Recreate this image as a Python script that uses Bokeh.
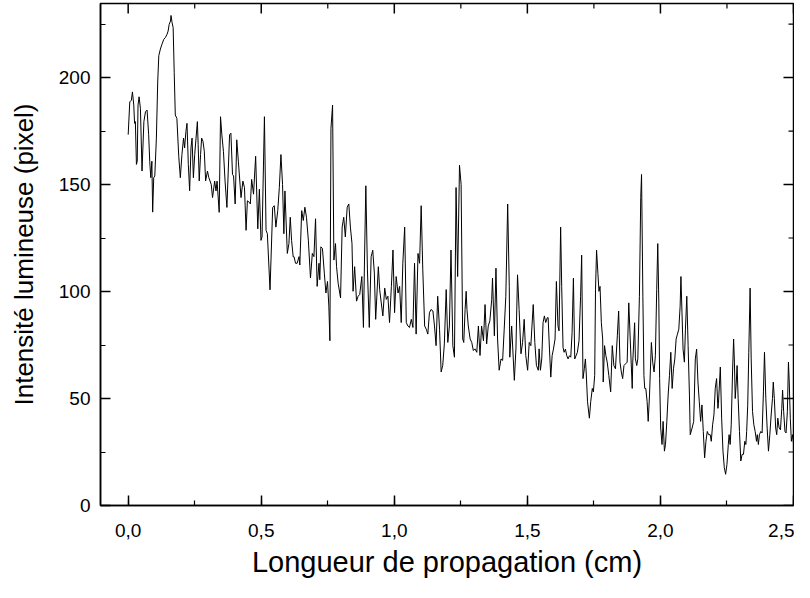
import math
from bokeh.plotting import figure
from bokeh.models import LinearAxis, SingleIntervalTicker, CustomJSTickFormatter, Range1d
from bokeh.embed import file_html
from bokeh.resources import INLINE

# Light intensity profile along the propagation length
seg1_x = [0.000,0.006,0.012,0.016,0.021,0.024,0.027,0.031,0.034,0.037,0.041,0.046,0.052,0.059,0.065,0.071,
          0.077,0.081,0.085,0.089,0.092,0.096,0.100,0.106,0.111,0.115,0.121,0.127,0.134,0.140,0.146,0.150,
          0.154,0.159,0.161,0.165,0.169,0.173,0.177,0.183,0.190,0.196,0.202,0.208,0.212,0.217,0.221,0.226,
          0.231,0.236,0.240,0.245,0.250,0.255,0.260,0.263,0.267,0.272,0.276,0.281,0.286,0.291,0.298,0.303]
seg1_y = [173.3,188.6,189.4,193.3,187.1,178.6,179.4,159.4,160.9,187.1,191.0,185.6,156.3,179.4,184.0,184.8,
          173.3,160.9,153.2,160.9,137.1,153.2,154.0,171.7,197.9,210.2,213.3,215.6,217.9,218.7,220.2,221.7,
          224.8,226.4,229.0,225.6,223.3,202.5,182.5,180.9,163.2,153.2,164.0,171.7,167.1,174.8,178.6,159.4,
          147.1,167.1,171.7,153.2,164.0,171.7,179.4,168.6,151.7,164.0,171.7,170.2,165.6,151.7,156.3,153.2]

seg2_x = [0.312,0.317,0.325,0.330,0.334,0.342,0.347,0.352,0.358,0.364,0.371,0.381,0.386,0.392,0.396,0.402,
          0.408,0.414,0.424,0.431,0.437,0.443,0.448,0.456,0.459,0.464,0.471,0.479,0.487,0.493,0.499,0.503,
          0.512,0.518,0.523,0.533,0.543,0.549,0.555,0.562,0.568,0.574,0.580,0.585,0.589,0.598,0.604,0.609,
          0.614,0.620]
seg2_y = [150.1,143.9,151.6,147.0,151.6,137.0,181.7,173.2,165.5,151.6,139.3,173.2,174.0,154.7,154.0,140.9,
          170.9,160.9,143.9,151.6,148.6,128.6,142.4,141.6,140.9,152.4,145.5,163.2,129.3,147.8,123.9,125.5,
          181.7,128.6,127.0,100.8,139.3,140.1,130.1,137.8,148.6,164.0,150.1,127.0,147.0,117.8,122.4,134.7,
          123.9,116.2]

seg3_x = [0.623,0.629,0.635,0.642,0.645,0.652,0.658,0.664,0.670,0.677,0.685,0.692,0.698,0.704,0.710,0.717,
          0.720,0.724,0.730,0.737,0.743,0.749,0.754,0.758,0.762,0.768,0.773,0.779,0.783,0.789,0.798,0.804,
          0.810,0.816,0.823,0.829,0.835,0.841,0.845,0.851,0.858,0.864,0.870,0.878,0.884,0.888,0.893,0.899,
          0.906,0.913,0.919,0.925,0.930,0.935,0.940]
seg3_y = [116.3,113.2,113.2,116.3,112.4,137.8,133.2,139.4,134.7,124.0,106.3,117.8,116.3,134.0,102.4,113.2,
          105.5,120.9,120.1,108.6,99.3,104.7,93.2,77.0,176.3,187.1,114.7,122.4,111.6,103.9,97.0,130.1,
          134.7,125.5,139.4,140.9,130.1,122.4,100.1,111.6,95.5,97.8,98.6,107.0,83.2,114.7,149.4,110.1,
          83.2,116.3,119.3,108.6,87.0,99.3,111.6]

seg4_x = [0.945,0.951,0.957,0.964,0.970,0.976,0.982,0.989,0.995,1.001,1.007,1.014,1.020,1.026,1.032,1.039,
          1.045,1.051,1.057,1.064,1.070,1.076,1.082,1.089,1.095,1.101,1.107,1.114,1.120,1.126,1.132,1.138,
          1.145,1.151,1.157,1.163,1.170,1.176,1.182,1.188,1.195,1.201,1.207,1.213,1.220,1.226,1.232,1.238,
          1.245]
seg4_y = [100.9,94.7,88.6,101.6,96.3,97.8,85.5,102.4,119.4,90.1,107.0,99.3,102.4,85.5,113.2,130.1,
          85.5,83.9,83.2,87.0,83.2,113.2,80.1,117.8,113.2,140.1,110.1,83.9,82.4,80.1,90.1,91.6,
          90.9,83.9,74.7,97.8,82.4,62.4,65.5,75.5,100.9,76.2,83.9,119.4,74.7,69.3,148.6,107.0,
          159.0]

seg5_x = [1.251,1.257,1.261,1.266,1.270,1.273,1.278,1.285,1.291,1.297,1.303,1.310,1.316,1.322,1.328,1.335,
          1.341,1.347,1.353,1.359,1.366,1.369,1.376,1.382,1.388,1.394,1.401,1.407,1.413,1.419,1.426,1.432,
          1.434,1.441,1.447,1.451,1.457,1.463,1.469,1.476,1.482,1.488,1.494,1.501,1.507,1.513,1.522,1.528,
          1.534,1.541,1.544,1.549,1.554,1.559,1.564,1.569,1.575]
seg5_y = [150.1,77.8,76.2,91.6,100.1,91.6,83.9,77.8,76.2,72.4,73.2,71.6,83.9,70.1,83.9,77.0,
          93.9,75.5,83.9,86.3,96.3,106.3,79.3,110.9,77.8,63.2,68.5,67.8,82.4,97.8,140.9,102.4,
          69.3,83.9,68.5,58.5,73.2,107.8,91.6,70.9,76.2,87.0,70.1,63.2,76.2,74.7,93.9,76.2,
          65.5,63.2,73.2,63.2,68.5,85.5,88.6,85.5,87.8]

seg6_x = [1.578,1.583,1.588,1.593,1.598,1.604,1.609,1.615,1.619,1.625,1.629,1.634,1.638,1.643,1.648,1.653,
          1.658,1.663,1.668,1.673,1.678,1.683,1.688,1.694,1.700,1.704,1.709,1.714,1.718,1.721,1.726,1.733,
          1.738,1.744,1.748,1.753,1.756,1.760,1.765,1.769,1.773,1.778,1.783,1.785,1.790,1.795,1.800,1.806,
          1.813,1.819,1.825,1.831,1.838,1.843,1.848,1.853,1.858,1.863,1.869,1.875,1.881,1.888,1.894]
seg6_y = [87.8,73.1,60.0,70.0,73.1,77.8,104.7,83.9,81.6,130.1,102.4,73.9,71.6,73.1,70.0,68.5,
          70.0,69.3,80.8,106.2,68.5,70.0,71.6,77.0,97.8,117.0,59.3,63.9,68.5,62.4,48.5,40.8,
          48.5,54.7,53.1,60.8,100.8,119.3,108.5,100.1,102.4,85.4,77.8,57.7,74.7,70.0,67.0,60.8,
          53.1,74.7,65.4,63.9,79.3,90.9,67.0,62.4,59.3,65.4,66.2,67.0,94.7,73.1,54.7]

seg7_x = [1.896,1.903,1.906,1.911,1.915,1.921,1.926,1.929,1.934,1.938,1.941,1.945,1.950,1.954,1.959,1.962,
          1.966,1.971,1.976,1.981,1.986,1.990,1.994,1.997,2.001,2.006,2.010,2.015,2.019,2.024,2.029,2.034,
          2.039,2.044,2.049,2.054,2.059,2.064,2.069,2.074,2.077,2.081,2.085,2.090,2.094,2.099,2.104,2.109,
          2.112,2.119,2.125,2.131,2.136,2.141,2.146,2.151,2.156,2.161,2.166,2.171,2.176,2.181,2.187,2.191,
          2.196,2.201,2.206,2.211,2.216]
seg7_y = [67.0,85.4,68.5,65.4,68.5,97.8,144.0,154.7,97.8,60.8,54.7,54.7,48.5,39.3,51.6,62.4,
          76.2,67.0,62.4,70.0,100.8,122.4,94.7,59.3,36.2,28.5,39.3,25.4,28.5,39.3,51.6,60.8,
          71.6,54.7,63.9,68.5,77.8,80.1,82.4,93.1,107.0,90.0,73.1,67.0,82.4,97.8,74.7,51.6,
          33.1,36.2,39.3,68.5,73.1,57.7,48.5,39.3,47.0,34.6,22.3,30.0,34.6,33.1,33.1,30.0,
          37.7,42.3,54.7,59.3,45.4]

seg8_x = [2.218,2.225,2.230,2.235,2.240,2.245,2.250,2.255,2.258,2.262,2.266,2.271,2.275,2.278,2.281,2.285,
          2.288,2.292,2.297,2.302,2.307,2.312,2.317,2.321,2.324,2.328,2.332,2.337,2.341,2.346,2.351,2.356,
          2.361,2.364,2.368,2.372,2.377,2.382,2.387,2.391,2.396,2.401,2.406,2.411,2.416,2.421,2.424,2.428,
          2.433,2.437,2.441,2.446,2.451,2.456,2.459,2.463,2.468,2.472,2.477,2.481,2.484,2.488,2.492,2.496,
          2.500]
seg8_y = [47.7,64.7,40.8,25.4,17.7,14.6,19.2,28.5,33.1,28.5,37.7,62.4,77.8,67.0,50.0,57.7,
          65.4,50.0,34.6,20.8,23.9,23.9,30.0,28.5,34.6,46.9,71.6,101.6,68.5,43.9,37.7,34.6,
          30.0,33.1,28.5,33.1,34.6,33.9,53.1,71.6,50.0,36.2,25.4,33.1,42.3,50.0,57.7,50.0,
          36.2,33.1,40.8,36.2,35.4,45.4,53.9,43.9,34.6,33.9,43.9,67.0,57.7,40.8,30.0,33.1,
          29.0]

# tick positions for the mirrored (top / right) ticks
x_major = [0.0, 0.5, 1.0, 1.5, 2.0, 2.5]
x_minor = [0.25, 0.75, 1.25, 1.75, 2.25]
y_major = [0, 50, 100, 150, 200]
y_minor = [25, 75, 125, 175, 225]

x_title = "Longueur de propagation (cm)"
y_title = "Intensité lumineuse (pixel)"

X_START, X_END = -0.104, 2.5
Y_START, Y_END = 0.0, 234.6

xs = seg1_x + seg2_x + seg3_x + seg4_x + seg5_x + seg6_x + seg7_x + seg8_x
ys = seg1_y + seg2_y + seg3_y + seg4_y + seg5_y + seg6_y + seg7_y + seg8_y
n = min(len(xs), len(ys))
xs, ys = xs[:n], ys[:n]

FONT = "Liberation Sans"

p = figure(width=794, height=582, output_backend="svg", toolbar_location=None,
           x_range=Range1d(X_START, X_END), y_range=Range1d(Y_START, Y_END),
           min_border_left=100, min_border_right=1, min_border_top=3, min_border_bottom=77,
           background_fill_color="white", border_fill_color="white")
p.xaxis.visible = False
p.yaxis.visible = False
p.grid.visible = False
p.outline_line_color = "black"
p.outline_line_width = 1.5

p.line(xs, ys, line_color="black", line_width=1)

# mirrored inward ticks on the top and right edges
p.ray(x=x_major, y=[Y_END] * len(x_major), length=10, angle=-math.pi / 2,
      length_units="screen", line_color="black", line_width=1.5)
p.ray(x=x_minor, y=[Y_END] * len(x_minor), length=5, angle=-math.pi / 2,
      length_units="screen", line_color="black", line_width=1.2)
p.ray(x=[X_END] * len(y_major), y=y_major, length=10, angle=math.pi,
      length_units="screen", line_color="black", line_width=1.5)
p.ray(x=[X_END] * len(y_minor), y=y_minor, length=5, angle=math.pi,
      length_units="screen", line_color="black", line_width=1.2)

fmt_x = CustomJSTickFormatter(code="return tick.toFixed(1).replace('.', ',');")

def style(ax):
    ax.axis_line_color = "black"
    ax.axis_line_width = 1.5
    ax.major_tick_line_width = 1.5
    ax.minor_tick_line_width = 1.2
    ax.major_tick_in = 10
    ax.major_tick_out = 0
    ax.minor_tick_in = 5
    ax.minor_tick_out = 0
    ax.major_label_text_font = FONT
    ax.major_label_text_font_size = "19px"
    ax.major_label_text_color = "black"
    ax.axis_label_text_font = FONT
    ax.axis_label_text_font_style = "normal"
    ax.axis_label_text_color = "black"

xb = LinearAxis(ticker=SingleIntervalTicker(interval=0.5, num_minor_ticks=2), formatter=fmt_x,
                axis_label=x_title)
style(xb)
xb.major_label_standoff = 18
xb.axis_label_text_font_size = "29px"
xb.axis_label_standoff = 6
p.add_layout(xb, "below")

yl = LinearAxis(ticker=SingleIntervalTicker(interval=50, num_minor_ticks=2), axis_label=y_title)
style(yl)
yl.major_label_standoff = 10
yl.axis_label_text_font_size = "26px"
yl.axis_label_standoff = 17
p.add_layout(yl, "left")

open("out.html", "w").write(file_html(p, INLINE))
